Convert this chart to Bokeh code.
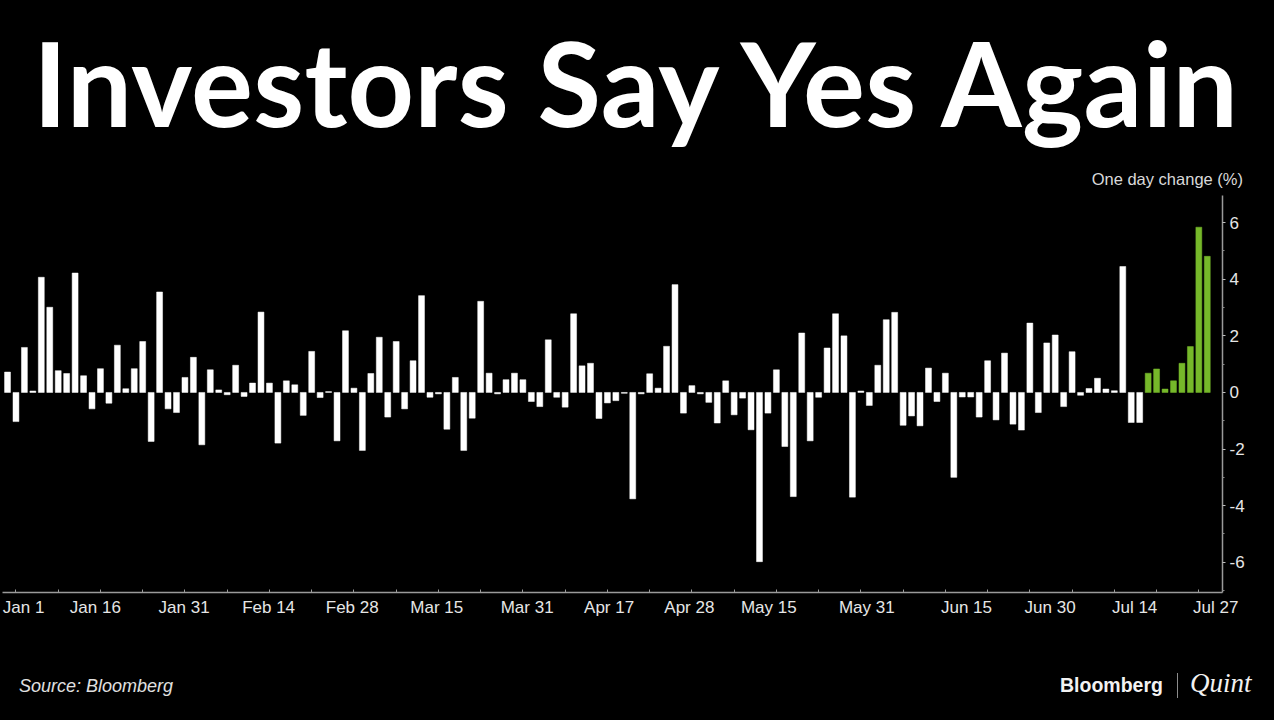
from bokeh.plotting import figure
from bokeh.layouts import column
from bokeh.models import ColumnDataSource, FixedTicker, Range1d, Div
from bokeh.embed import file_html
from bokeh.resources import INLINE

# One-day change (%) for each trading day, Jan 1 .. Jul 27
changes = [
    0.72, -1.03, 1.59, 0.05, 4.07, 3.01, 0.77, 0.67, 4.22, 0.59,
    -0.58, 0.84, -0.38, 1.67, 0.13, 0.84, 1.80, -1.73, 3.55, -0.58,
    -0.71, 0.53, 1.24, -1.85, 0.80, 0.09, -0.08, 0.96, -0.14, 0.33,
    2.84, 0.33, -1.79, 0.41, 0.27, -0.81, 1.45, -0.18, 0.03, -1.71,
    2.18, 0.15, -2.05, 0.67, 1.95, -0.87, 1.80, -0.58, 1.12, 3.42,
    -0.17, -0.05, -1.30, 0.53, -2.05, -0.91, 3.22, 0.68, -0.05, 0.45,
    0.68, 0.45, -0.32, -0.50, 1.86, -0.17, -0.52, 2.78, 0.94, 1.03,
    -0.92, -0.37, -0.29, -0.03, -3.76, -0.05, 0.66, 0.15, 1.63, 3.81,
    -0.73, 0.24, -0.05, -0.35, -1.08, 0.41, -0.79, -0.20, -1.32, -5.98,
    -0.73, 0.80, -1.91, -3.68, 2.10, -1.71, -0.17, 1.57, 2.78, 2.00,
    -3.70, 0.05, -0.46, 0.96, 2.57, 2.83, -1.16, -0.83, -1.18, 0.86,
    -0.32, 0.68, -3.00, -0.16, -0.16, -0.87, 1.12, -0.97, 1.39, -1.12,
    -1.33, 2.45, -0.71, 1.75, 2.03, -0.50, 1.44, -0.10, 0.14, 0.50,
    0.12, 0.06, 4.45, -1.06, -1.06, 0.68, 0.83, 0.12, 0.41, 1.03,
    1.62, 5.84, 4.81,
]
recent_days = 8  # latest winning streak, highlighted in green

tick_labels = ["Jan 1", "Jan 16", "Jan 31", "Feb 14", "Feb 28", "Mar 15",
               "Mar 31", "Apr 17", "Apr 28", "May 15", "May 31", "Jun 15",
               "Jun 30", "Jul 14", "Jul 27"]
tick_positions = [1.9, 10.4, 20.9, 30.9, 40.8, 50.8, 61.5, 71.2, 80.7,
                  90.1, 101.7, 113.5, 123.4, 133.4, 143.0]
y_ticks = [-6, -4, -2, 0, 2, 4, 6]

title_text = "Investors Say Yes Again"
unit_text = "One day change (%)"
source_text = "Source: Bloomberg"

WHITE = "#ffffff"
GREEN = "#76b82a"
n = len(changes)
colors = [WHITE] * (n - recent_days) + [GREEN] * recent_days
src = ColumnDataSource(dict(x=list(range(n)), top=changes, color=colors))

W = 1264
BLACK_BG = {"background-color": "black"}

header = Div(width=W, height=185, styles=BLACK_BG, text=f"""
<div style="position:relative;width:{W}px;height:185px;background:#000;overflow:hidden;margin:0;padding:0">
  <div style="position:absolute;left:28px;top:20px;font-family:Lato;font-weight:bold;
              font-size:116px;line-height:1;color:#fff;white-space:nowrap;letter-spacing:0.3px">{title_text}</div>
  <div style="position:absolute;right:26px;top:166px;font-family:'Liberation Sans';
              font-size:16.5px;line-height:1;color:#d9d9d9;white-space:nowrap">{unit_text}</div>
</div>""")

p = figure(width=W, height=431, output_backend="svg", toolbar_location=None,
           x_range=Range1d(-0.83, 143.8), y_range=Range1d(-7.07, 6.96),
           y_axis_location="right",
           min_border_left=0, min_border_right=42, min_border_top=0,
           min_border_bottom=34,
           background_fill_color="black", border_fill_color="black",
           outline_line_color=None, styles=BLACK_BG)
p.grid.visible = False

p.vbar(x="x", top="top", bottom=0, width=0.7, fill_color="color",
       line_color="color", line_width=0.5, source=src)

# x axis
xa = p.xaxis[0]
xa.bounds = (-0.6, 143.8)
xa.ticker = FixedTicker(ticks=tick_positions, minor_ticks=list(range(1, 143, 5)))
xa.major_label_overrides = {t: l for t, l in zip(tick_positions, tick_labels)}
xa.axis_line_color = "#9a9a9a"
xa.axis_line_width = 1.5
xa.major_tick_line_color = None
xa.major_tick_in = 0
xa.major_tick_out = 0
xa.minor_tick_line_color = "#9a9a9a"
xa.minor_tick_in = 3
xa.minor_tick_out = 0
xa.major_label_text_color = "#e6e6e6"
xa.major_label_text_font = "Liberation Sans"
xa.major_label_text_font_size = "17px"
xa.major_label_standoff = 5

# y axis (right)
ya = p.yaxis[0]
ya.ticker = FixedTicker(ticks=y_ticks, minor_ticks=[-7, -5, -3, -1, 1, 3, 5])
ya.major_label_overrides = {v: str(v) for v in y_ticks}
ya.axis_line_color = "#9a9a9a"
ya.axis_line_width = 1.5
ya.major_tick_line_color = "#bdbdbd"
ya.major_tick_in = 0
ya.major_tick_out = 3
ya.minor_tick_line_color = "#8a8a8a"
ya.minor_tick_in = 0
ya.minor_tick_out = 2
ya.major_label_text_color = "#e6e6e6"
ya.major_label_text_font = "Liberation Sans"
ya.major_label_text_font_size = "17px"
ya.major_label_standoff = 4

footer = Div(width=W, height=88, styles=BLACK_BG, text=f"""
<div style="position:relative;width:{W}px;height:88px;background:#000;overflow:hidden;margin:0;padding:0">
  <div style="position:absolute;left:14px;top:46px;font-family:'Liberation Sans';font-style:italic;
              font-size:18px;line-height:1;color:#e0e0e0;white-space:nowrap">{source_text}</div>
  <div style="position:absolute;left:1055px;top:45px;font-family:'Liberation Sans';font-weight:bold;
              font-size:19.5px;line-height:1;color:#f2f2f2;white-space:nowrap">Bloomberg</div>
  <div style="position:absolute;left:1172px;top:42px;width:1px;height:25px;background:#8c8c8c"></div>
  <div style="position:absolute;left:1185px;top:39px;font-family:'Liberation Serif';font-style:italic;
              font-size:27px;line-height:1;color:#f2f2f2;white-space:nowrap">Quint</div>
</div>""")

layout = column(header, p, footer, spacing=0, styles=BLACK_BG)
open("out.html", "w").write(file_html(layout, INLINE))
